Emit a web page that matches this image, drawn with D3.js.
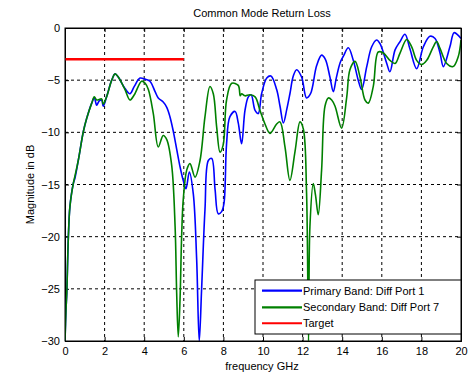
<!DOCTYPE html>
<html><head><meta charset="utf-8">
<script src="https://cdn.jsdelivr.net/npm/d3@7"></script>
<style>body{margin:0;background:#fff}svg{display:block}text{font-family:"Liberation Sans",Arial,sans-serif;fill:#000}</style>
</head><body><svg id="c" width="468" height="375"></svg>
<script>
const primaryFreq=[0,0.05,0.09,0.17,0.25,0.42,0.5,0.67,0.93,1.09,1.35,1.48,1.6,1.72,1.85,1.93,2.1,2.36,2.53,2.69,3.03,3.28,3.5,3.79,4.04,4.29,4.55,4.71,4.96,5.14,5.3,5.47,5.64,5.81,5.97,6.11,6.28,6.48,6.65,6.78,6.9,7.07,7.24,7.41,7.58,7.74,7.91,8.03,8.16,8.33,8.59,8.75,8.92,9.09,9.26,9.4,9.6,9.76,9.93,10.19,10.4,10.69,10.86,11.03,11.2,11.36,11.53,11.7,11.95,12.2,12.4,12.71,12.96,13.15,13.38,13.55,13.7,13.9,14.06,14.31,14.56,14.81,14.98,15.24,15.49,15.74,15.91,16.25,16.41,16.67,16.92,17.17,17.42,17.76,18.1,18.43,18.69,18.94,19.11,19.44,19.65,19.86,20];
const primaryDb=[-30,-27,-25.4,-20,-17.1,-14.9,-14.4,-12.7,-9.9,-8.7,-7.2,-6.7,-7.4,-7.0,-6.9,-7.5,-6.6,-5.0,-4.4,-4.7,-5.8,-6.3,-5.6,-4.8,-4.9,-5.1,-6.1,-6.7,-7.1,-7.6,-8.5,-9.9,-11.6,-13.3,-14.6,-15.4,-13.8,-15.9,-22.2,-30,-25,-17.4,-12.7,-12.5,-15.5,-17.8,-17.6,-16.8,-11.1,-8.5,-8.0,-9.1,-11.1,-7.9,-6.6,-6.4,-7.9,-8.2,-6.3,-4.8,-4.6,-5.9,-7.5,-9.1,-7.8,-6.3,-4.6,-4.0,-4.7,-6.7,-6.3,-3.6,-2.6,-3.0,-4.7,-6.1,-4.8,-3.3,-2.7,-1.9,-3.1,-5.0,-5.9,-3.7,-1.8,-1.15,-1.5,-3.4,-4.2,-2.1,-1.3,-0.6,-2.0,-3.9,-1.8,-0.8,-1.0,-2.4,-3.7,-1.8,-0.45,-0.7,-1.0];
const secondaryFreq=[0,0.05,0.09,0.17,0.25,0.42,0.5,0.67,0.93,1.09,1.35,1.48,1.6,1.85,1.93,2.1,2.36,2.53,2.69,3.03,3.28,3.5,3.87,4.05,4.21,4.46,4.71,4.96,5.14,5.39,5.56,5.64,5.72,5.81,5.89,5.97,6.15,6.31,6.57,6.82,7.07,7.32,7.49,7.66,7.83,7.99,8.16,8.42,8.75,8.85,8.92,9.09,9.34,9.6,9.85,10.1,10.35,10.69,10.86,11.11,11.36,11.62,11.87,12.04,12.2,12.3,12.37,12.54,12.65,12.79,12.96,13.13,13.3,13.47,13.64,13.97,14.23,14.39,14.65,14.9,15.15,15.32,15.57,15.82,16.08,16.41,16.67,16.92,17.26,17.51,17.76,18.02,18.27,18.6,18.77,18.94,19.28,19.6,19.86,20];
const secondaryDb=[-30,-27,-25.4,-20,-17.1,-14.9,-14.2,-12.7,-9.9,-8.7,-7.2,-6.6,-6.9,-6.8,-7.3,-6.6,-5.0,-4.4,-4.7,-5.9,-6.9,-6.4,-5.1,-5.3,-5.9,-8.2,-11.4,-10.3,-10.7,-13.2,-19.0,-25.4,-29.6,-26,-20,-16.5,-13.6,-13,-14.3,-12.7,-8.5,-5.6,-6.3,-9.5,-11.9,-11.2,-6.9,-5.3,-5.5,-6.5,-6.3,-6.5,-6.4,-6.6,-7.9,-9.2,-10.1,-9.2,-9.0,-11.4,-14.6,-11.8,-9.0,-9.7,-15.8,-30,-19,-14.9,-16,-17.9,-13.6,-7.5,-6.7,-6.9,-7.5,-9.6,-6.6,-4.0,-3.2,-4.7,-6.9,-7.2,-5.6,-2.3,-2.4,-3.1,-3.4,-2.4,-1.1,-1.8,-3.1,-3.5,-3.1,-1.8,-1.3,-1.95,-3.4,-3.7,-2.75,-1.15];
const targetFreq=[0,6];
const targetDb=[-3,-3];
const xTicks=[0,2,4,6,8,10,12,14,16,18,20];
const yTicks=[0,-5,-10,-15,-20,-25,-30];
const legendLabels=["Primary Band: Diff Port 1","Secondary Band: Diff Port 7","Target"];
const colors=["#0000ff","#008000","#ff0000"];

const svg=d3.select("#c");
const L=65,R=461,T=28,B=341;
const x=d3.scaleLinear().domain([0,20]).range([L,R]);
const y=d3.scaleLinear().domain([-30,0]).range([B,T]);

svg.append("defs").append("clipPath").attr("id","clip").append("rect").attr("x",L).attr("y",T).attr("width",R-L).attr("height",B-T);

// grid
const g=svg.append("g");
g.selectAll(".vg").data(xTicks.slice(1,-1)).join("line").attr("x1",d=>x(d)).attr("x2",d=>x(d)).attr("y1",T).attr("y2",B).attr("stroke","#000").attr("stroke-width",1).attr("stroke-dasharray","3,3");
g.selectAll(".hg").data(yTicks.slice(1,-1)).join("line").attr("y1",d=>y(d)).attr("y2",d=>y(d)).attr("x1",L).attr("x2",R).attr("stroke","#000").attr("stroke-width",1).attr("stroke-dasharray","3,3");

// axes
const xa=svg.append("g").attr("transform",`translate(0,${B})`).call(d3.axisBottom(x).tickValues(xTicks).tickSize(-4).tickPadding(6));
const ya=svg.append("g").attr("transform",`translate(${L},0)`).call(d3.axisLeft(y).tickValues(yTicks).tickSize(-4).tickPadding(5));
svg.append("g").attr("transform",`translate(0,${T})`).call(d3.axisTop(x).tickValues(xTicks).tickSize(-4).tickFormat(""));
svg.append("g").attr("transform",`translate(${R},0)`).call(d3.axisRight(y).tickValues(yTicks).tickSize(-4).tickFormat(""));
svg.selectAll(".domain").attr("stroke","#000");
svg.selectAll(".tick line").attr("stroke","#000");
svg.selectAll(".tick text").attr("font-size",11).attr("font-family","Liberation Sans, Arial, sans-serif");

// lines
const line=d3.line().x(d=>x(d[0])).y(d=>y(d[1])).curve(d3.curveCatmullRom.alpha(0.5));
const plot=svg.append("g").attr("clip-path","url(#clip)");
plot.append("path").datum(primaryFreq.map((f,i)=>[f,primaryDb[i]])).attr("d",line).attr("fill","none").attr("stroke",colors[0]).attr("stroke-width",1.6);
plot.append("path").datum(secondaryFreq.map((f,i)=>[f,secondaryDb[i]])).attr("d",line).attr("fill","none").attr("stroke",colors[1]).attr("stroke-width",1.6);
plot.append("path").datum(targetFreq.map((f,i)=>[f,targetDb[i]])).attr("d",d3.line().x(d=>x(d[0])).y(d=>y(d[1]))).attr("fill","none").attr("stroke",colors[2]).attr("stroke-width",2.5);

// border
svg.append("rect").attr("x",L).attr("y",T).attr("width",R-L).attr("height",B-T).attr("fill","none").attr("stroke","#000").attr("stroke-width",1);

// title & labels
svg.append("text").attr("x",262).attr("y",17).attr("text-anchor","middle").attr("font-size",11).text("Common Mode Return Loss");
svg.append("text").attr("x",262).attr("y",370).attr("text-anchor","middle").attr("font-size",11).text("frequency GHz");
svg.append("text").attr("transform",`translate(34,${(T+B)/2}) rotate(-90)`).attr("text-anchor","middle").attr("font-size",11).text("Magnitude in dB");

// legend
const lg=svg.append("g");
lg.append("rect").attr("x",255).attr("y",280).attr("width",206).attr("height",54).attr("fill","#fff").attr("stroke","#000").attr("stroke-width",1);
const rows=[290.7,307.3,323.3];
legendLabels.forEach((t,i)=>{
  lg.append("line").attr("x1",262).attr("x2",302).attr("y1",rows[i]).attr("y2",rows[i]).attr("stroke",colors[i]).attr("stroke-width",i===2?2:2.2);
  lg.append("text").attr("x",303).attr("y",rows[i]+4).attr("font-size",11).text(t);
});
</script></body></html>
